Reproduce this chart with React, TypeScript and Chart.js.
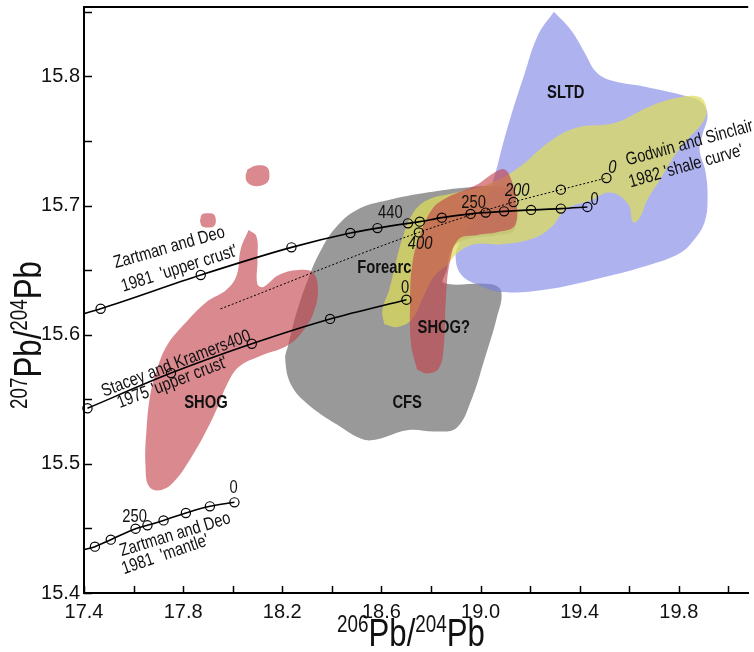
import React, { useEffect, useRef } from 'react';
import { Chart, registerables } from 'chart.js';

Chart.register(...registerables);

// ---------- axes ----------
const X_TICKS = [17.4, 17.6, 17.8, 18.0, 18.2, 18.4, 18.6, 18.8, 19.0, 19.2, 19.4, 19.6, 19.8, 20.0];
const X_LABELS = [17.4, 17.8, 18.2, 18.6, 19.0, 19.4, 19.8];
const Y_TICKS = [15.4, 15.45, 15.5, 15.55, 15.6, 15.65, 15.7, 15.75, 15.8, 15.85];
const Y_LABELS = [15.4, 15.5, 15.6, 15.7, 15.8];

// ---------- field outlines (206Pb/204Pb, 207Pb/204Pb) ----------
const SLTD_X = [19.296, 19.364, 19.424, 19.464, 19.524, 19.664, 19.824, 19.892, 19.916, 19.896, 19.884, 19.908, 19.916, 19.904, 19.864, 19.804, 19.664, 19.464, 19.264, 19.084, 18.984, 18.924, 18.9, 18.912, 18.964, 19.024, 19.064, 19.084, 19.124, 19.176, 19.232];
const SLTD_Y = [15.850, 15.836, 15.817, 15.804, 15.797, 15.792, 15.785, 15.780, 15.770, 15.755, 15.743, 15.726, 15.704, 15.687, 15.674, 15.663, 15.653, 15.643, 15.635, 15.633, 15.639, 15.646, 15.658, 15.670, 15.685, 15.704, 15.728, 15.743, 15.770, 15.801, 15.832];

const SHALE_X = [18.612, 18.604, 18.632, 18.656, 18.684, 18.724, 18.784, 18.904, 19.024, 19.144, 19.276, 19.384, 19.544, 19.676, 19.784, 19.884, 19.912, 19.896, 19.844, 19.784, 19.724, 19.672, 19.644, 19.616, 19.596, 19.524, 19.444, 19.344, 19.284, 19.204, 19.084, 18.976, 18.912, 18.864, 18.812, 18.764, 18.724, 18.664];
const SHALE_Y = [15.608, 15.619, 15.635, 15.654, 15.674, 15.693, 15.704, 15.710, 15.716, 15.728, 15.749, 15.760, 15.764, 15.776, 15.783, 15.784, 15.774, 15.764, 15.753, 15.739, 15.720, 15.704, 15.691, 15.687, 15.701, 15.710, 15.704, 15.697, 15.683, 15.674, 15.670, 15.670, 15.664, 15.654, 15.645, 15.627, 15.612, 15.606];

const SHOGQ_X = [18.744, 18.72, 18.716, 18.724, 18.752, 18.804, 18.864, 18.984, 19.052, 19.096, 19.124, 19.144, 19.14, 19.084, 18.984, 18.912, 18.876, 18.86, 18.852, 18.832, 18.784];
const SHOGQ_Y = [15.573, 15.592, 15.627, 15.654, 15.675, 15.697, 15.706, 15.716, 15.725, 15.728, 15.720, 15.704, 15.685, 15.680, 15.677, 15.674, 15.656, 15.627, 15.592, 15.574, 15.570];

const CFS_X = [18.224, 18.256, 18.304, 18.352, 18.416, 18.504, 18.624, 18.784, 18.944, 19.064, 19.124, 19.144, 19.136, 19.064, 18.944, 18.884, 18.864, 18.852, 19.044, 19.084, 19.064, 19.016, 18.964, 18.904, 18.824, 18.704, 18.584, 18.524, 18.424, 18.304, 18.236, 18.212];
const CFS_Y = [15.592, 15.616, 15.643, 15.664, 15.683, 15.697, 15.704, 15.710, 15.714, 15.715, 15.712, 15.701, 15.681, 15.677, 15.674, 15.666, 15.650, 15.640, 15.639, 15.633, 15.612, 15.581, 15.550, 15.528, 15.525, 15.526, 15.519, 15.519, 15.530, 15.546, 15.561, 15.581];

const SHOG_X = [18.064, 18.096, 18.1, 18.1, 18.124, 18.184, 18.264, 18.324, 18.344, 18.328, 18.288, 18.224, 18.104, 18.024, 17.976, 17.944, 17.892, 17.836, 17.772, 17.716, 17.664, 17.648, 17.652, 17.668, 17.696, 17.736, 17.804, 17.892, 17.976, 18.016, 18.032];
const SHOG_Y = [15.681, 15.676, 15.658, 15.639, 15.637, 15.646, 15.650, 15.648, 15.635, 15.618, 15.604, 15.592, 15.583, 15.575, 15.561, 15.546, 15.525, 15.506, 15.488, 15.480, 15.482, 15.499, 15.526, 15.554, 15.574, 15.592, 15.608, 15.625, 15.635, 15.646, 15.666];

const SHOG_DOT1_X = [17.868, 17.876, 17.9, 17.924, 17.932, 17.924, 17.9, 17.876];
const SHOG_DOT1_Y = [15.688, 15.693, 15.694, 15.693, 15.688, 15.684, 15.683, 15.684];

const SHOG_DOT2_X = [18.06, 18.096, 18.136, 18.148, 18.14, 18.1, 18.064, 18.052];
const SHOG_DOT2_Y = [15.728, 15.731, 15.730, 15.725, 15.718, 15.715, 15.717, 15.722];

// ---------- model growth curves ----------
const ZD_CRUST_X = [17.4, 17.467, 17.871, 18.237, 18.475, 18.584, 18.707, 18.755, 18.844, 18.96, 19.021, 19.095, 19.204, 19.324, 19.431];
const ZD_CRUST_Y = [15.6163, 15.6201, 15.6462, 15.6676, 15.6787, 15.6825, 15.6862, 15.6875, 15.6906, 15.6935, 15.6945, 15.6955, 15.6966, 15.6976, 15.6989];

const SK_X = [17.414, 17.751, 18.077, 18.393, 18.701];
const SK_Y = [15.543, 15.5703, 15.593, 15.6122, 15.6271];

const ZD_MANTLE_X = [17.4, 17.444, 17.508, 17.608, 17.656, 17.721, 17.811, 17.908, 18.007];
const ZD_MANTLE_Y = [15.4335, 15.4359, 15.4413, 15.4498, 15.4524, 15.4562, 15.4619, 15.4671, 15.4702];

const GS_X = [17.951, 18.751, 19.133, 19.324, 19.508];
const GS_Y = [15.62, 15.6792, 15.7027, 15.7123, 15.7213];

// ---------- text labels ----------
const REGION_NAMES = ['SLTD', 'Forearc', 'SHOG?', 'CFS', 'SHOG'];
const REGION_X = [19.344, 18.612, 18.852, 18.704, 17.892];
const REGION_Y = [15.7874, 15.6519, 15.6054, 15.5474, 15.5474];

const CAPTIONS = [
  { text: 'Zartman and Deo', x: 17.744, y: 15.6673, angle: -16, align: 'center' },
  { text: "1981  'upper crust'", x: 17.784, y: 15.651, angle: -17.5, align: 'center' },
  { text: 'Stacey and Kramers400', x: 17.772, y: 15.5775, angle: -21, align: 'center' },
  { text: "1975 'upper crust'", x: 17.756, y: 15.5628, angle: -21, align: 'center' },
  { text: 'Zartman and Deo', x: 17.768, y: 15.4451, angle: -17, align: 'center' },
  { text: "1981  'mantle'", x: 17.728, y: 15.4296, angle: -19, align: 'center' },
  { text: 'Godwin and Sinclair', x: 19.588, y: 15.7346, angle: -15.5, align: 'left' },
  { text: "1982 'shale curve'", x: 19.6, y: 15.7176, angle: -16, align: 'left' },
];

const AGE_LABELS = [
  { text: '0', x: 18.004, y: 15.4815, italic: false },
  { text: '250', x: 17.604, y: 15.4591, italic: false },
  { text: '440', x: 18.636, y: 15.6944, italic: false },
  { text: '250', x: 18.972, y: 15.7021, italic: false },
  { text: '0', x: 19.46, y: 15.7044, italic: false },
  { text: '0', x: 18.696, y: 15.6363, italic: false },
  { text: '400', x: 18.756, y: 15.6704, italic: true },
  { text: '200', x: 19.148, y: 15.7114, italic: true },
  { text: '0', x: 19.532, y: 15.7292, italic: true },
];

const FAMILY = "'Liberation Sans', Arial, sans-serif";
const NARROW = 0.82;

const pts = (xs: number[], ys: number[], close = false) => {
  const a = xs.map((x, i) => ({ x, y: ys[i] }));
  if (close) a.push({ ...a[0] });
  return a;
};

const shape = (label: string, xs: number[], ys: number[], color: string, order: number) => ({
  label,
  data: pts(xs, ys, true),
  showLine: true,
  fill: 'shape',
  backgroundColor: color,
  borderColor: 'rgba(0,0,0,0)',
  borderWidth: 0,
  pointRadius: 0,
  tension: 0.4,
  order,
});

const curve = (label: string, xs: number[], ys: number[], dashed: boolean, skipFirst: boolean) => ({
  label,
  data: pts(xs, ys),
  showLine: true,
  fill: false,
  borderColor: '#000',
  borderWidth: dashed ? 1 : 1.6,
  borderDash: dashed ? [2, 2] : [],
  cubicInterpolationMode: 'monotone',
  pointRadius: (c: any) => (skipFirst && c.dataIndex === 0 ? 0 : 4.6),
  pointBorderColor: '#000',
  pointBorderWidth: 1.2,
  pointBackgroundColor: 'rgba(0,0,0,0)',
  clip: 8,
  order: 0,
});

function narrowText(ctx: CanvasRenderingContext2D, text: string, x: number, y: number, angleDeg = 0) {
  ctx.save();
  ctx.translate(x, y);
  if (angleDeg) ctx.rotate((angleDeg * Math.PI) / 180);
  ctx.scale(NARROW, 1);
  ctx.fillText(text, 0, 0);
  ctx.restore();
}

function drawSupTitle(ctx: CanvasRenderingContext2D, main: number, sup: number, parts: [string, boolean][]) {
  ctx.scale(NARROW, 1);
  const widths = parts.map(([t, s]) => {
    ctx.font = `${s ? sup : main}px ${FAMILY}`;
    return ctx.measureText(t).width;
  });
  const total = widths.reduce((a, b) => a + b, 0);
  let cx = -total / 2;
  ctx.textAlign = 'left';
  ctx.textBaseline = 'alphabetic';
  parts.forEach(([t, s], i) => {
    ctx.font = `${s ? sup : main}px ${FAMILY}`;
    ctx.fillText(t, cx, s ? -main * 0.36 : 0);
    cx += widths[i];
  });
}

const decorPlugin = {
  id: 'decor',
  afterDraw(chart: any) {
    const { ctx, chartArea: a, scales } = chart;
    const xs = scales.x;
    const ys = scales.y;
    ctx.save();
    ctx.strokeStyle = '#000';
    ctx.fillStyle = '#111';
    // top frame line
    ctx.lineWidth = 2;
    ctx.beginPath();
    ctx.moveTo(a.left, a.top);
    ctx.lineTo(a.right, a.top);
    ctx.stroke();
    // inward ticks
    ctx.lineWidth = 1.5;
    X_TICKS.forEach((v) => {
      const px = Math.round(xs.getPixelForValue(v)) + 0.5;
      ctx.beginPath();
      ctx.moveTo(px, a.bottom);
      ctx.lineTo(px, a.bottom - 7);
      ctx.stroke();
    });
    Y_TICKS.forEach((v) => {
      const py = Math.round(ys.getPixelForValue(v)) + 0.5;
      ctx.beginPath();
      ctx.moveTo(a.left, py);
      ctx.lineTo(a.left + 8, py);
      ctx.stroke();
    });

    // region names
    ctx.textBaseline = 'middle';
    ctx.textAlign = 'center';
    ctx.font = `bold 18px ${FAMILY}`;
    REGION_NAMES.forEach((t, i) => {
      narrowText(ctx, t, xs.getPixelForValue(REGION_X[i]), ys.getPixelForValue(REGION_Y[i]));
    });

    // captions
    ctx.font = `18px ${FAMILY}`;
    CAPTIONS.forEach((c) => {
      ctx.textAlign = c.align as CanvasTextAlign;
      ctx.textBaseline = 'middle';
      narrowText(ctx, c.text, xs.getPixelForValue(c.x), ys.getPixelForValue(c.y), c.angle);
    });

    // age labels
    AGE_LABELS.forEach((l) => {
      ctx.font = `${l.italic ? 'italic ' : ''}18px ${FAMILY}`;
      ctx.textAlign = 'center';
      ctx.textBaseline = 'middle';
      narrowText(ctx, l.text, xs.getPixelForValue(l.x), ys.getPixelForValue(l.y));
    });

    // axis titles
    ctx.fillStyle = '#111';
    ctx.save();
    ctx.translate(411, 646);
    drawSupTitle(ctx, 38, 23, [['206', true], ['Pb/', false], ['204', true], ['Pb', false]]);
    ctx.restore();
    ctx.save();
    ctx.translate(41, 335);
    ctx.rotate(-Math.PI / 2);
    drawSupTitle(ctx, 38, 23, [['207', true], ['Pb/', false], ['204', true], ['Pb', false]]);
    ctx.restore();

    ctx.restore();
  },
};

export default function App() {
  const ref = useRef<HTMLCanvasElement | null>(null);

  useEffect(() => {
    if (!ref.current) return;
    const chart = new Chart(ref.current, {
      type: 'scatter',
      data: {
        datasets: [
          shape('CFS / Forearc', CFS_X, CFS_Y, 'rgba(105,105,105,0.68)', 5),
          shape('SLTD', SLTD_X, SLTD_Y, 'rgba(120,128,228,0.6)', 4),
          shape('Shale', SHALE_X, SHALE_Y, 'rgba(222,222,90,0.72)', 3),
          shape('SHOG?', SHOGQ_X, SHOGQ_Y, 'rgba(195,65,75,0.62)', 2),
          shape('SHOG', SHOG_X, SHOG_Y, 'rgba(195,65,75,0.62)', 2),
          shape('SHOG a', SHOG_DOT1_X, SHOG_DOT1_Y, 'rgba(195,65,75,0.62)', 2),
          shape('SHOG b', SHOG_DOT2_X, SHOG_DOT2_Y, 'rgba(195,65,75,0.62)', 2),
          curve('Godwin and Sinclair 1982', GS_X, GS_Y, true, true),
          curve('Zartman and Deo 1981 upper crust', ZD_CRUST_X, ZD_CRUST_Y, false, true),
          curve('Stacey and Kramers 1975', SK_X, SK_Y, false, false),
          curve('Zartman and Deo 1981 mantle', ZD_MANTLE_X, ZD_MANTLE_Y, false, true),
        ] as any,
      },
      options: {
        animation: false,
        responsive: false,
        devicePixelRatio: 1,
        events: [],
        layout: { padding: { top: 7, right: 0, bottom: 0, left: 0 } },
        plugins: { legend: { display: false }, tooltip: { enabled: false } },
        scales: {
          x: {
            type: 'linear',
            min: 17.4,
            max: 20.08,
            grid: { display: false, drawTicks: false },
            border: { display: true, color: '#000', width: 2 },
            afterBuildTicks: (s: any) => {
              s.ticks = X_TICKS.map((v) => ({ value: v }));
            },
            afterFit: (s: any) => {
              s.height = 59;
              s.paddingLeft = 0;
              s.paddingRight = 0;
            },
            ticks: {
              autoSkip: false,
              maxRotation: 0,
              padding: 7,
              color: '#111',
              font: { family: FAMILY, size: 20 },
              callback: (v: any) => (X_LABELS.some((l) => Math.abs(l - v) < 1e-6) ? Number(v).toFixed(1) : ''),
            },
          },
          y: {
            type: 'linear',
            min: 15.4,
            max: 15.8537,
            grid: { display: false, drawTicks: false },
            border: { display: true, color: '#000', width: 2 },
            afterBuildTicks: (s: any) => {
              s.ticks = Y_TICKS.map((v) => ({ value: v }));
            },
            afterFit: (s: any) => {
              s.width = 84;
              s.paddingTop = 0;
              s.paddingBottom = 0;
            },
            ticks: {
              autoSkip: false,
              padding: 4,
              color: '#111',
              font: { family: FAMILY, size: 20 },
              callback: (v: any) => (Y_LABELS.some((l) => Math.abs(l - v) < 1e-6) ? Number(v).toFixed(1) : ''),
            },
          },
        },
      },
      plugins: [decorPlugin],
    } as any);
    return () => chart.destroy();
  }, []);

  return (
    <div style={{ position: 'absolute', left: 0, top: 0, width: 754, height: 652, background: '#fff' }}>
      <canvas ref={ref} width={754} height={652} />
    </div>
  );
}
